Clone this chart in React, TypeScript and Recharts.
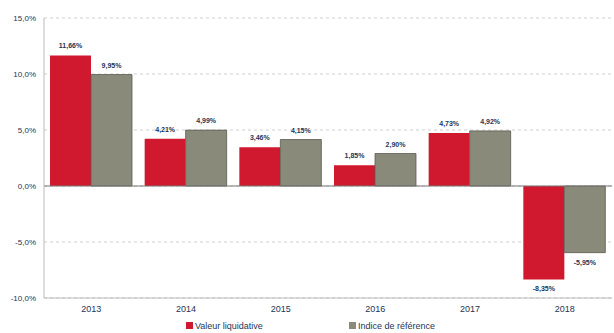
import React from 'react';
import { BarChart, Bar, XAxis, YAxis, CartesianGrid, ReferenceLine, LabelList, Legend } from 'recharts';

const years = ['2013', '2014', '2015', '2016', '2017', '2018'];
const valeurLiquidative = [11.66, 4.21, 3.46, 1.85, 4.73, -8.35];
const indiceReference = [9.95, 4.99, 4.15, 2.9, 4.92, -5.95];
const yTicks = [-10, -5, 0, 5, 10, 15];

const RED = '#d0182f';
const GREY = '#8a8a7a';
const TEXT = '#243556';

const data = years.map((y, i) => ({
  year: y,
  vl: valeurLiquidative[i],
  ir: indiceReference[i],
}));

const fmt = (v: number) => v.toFixed(1).replace('.', ',') + '%';
const fmtLabel = (v: any) => Number(v).toFixed(2).replace('.', ',') + '%';

const LegendBox = () => (
  <div style={{ display: 'flex', fontSize: 9, color: TEXT, fontFamily: 'Liberation Sans, Arial, sans-serif', height: 15, alignItems: 'center' }}>
    <div style={{ marginLeft: 186, display: 'flex', alignItems: 'center' }}>
      <span style={{ width: 7, height: 7, background: RED, display: 'inline-block', marginRight: 2 }} />
      Valeur liquidative
    </div>
    <div style={{ marginLeft: 86, display: 'flex', alignItems: 'center' }}>
      <span style={{ width: 7, height: 7, background: GREY, display: 'inline-block', marginRight: 2 }} />
      Indice de référence
    </div>
  </div>
);

export default function App() {
  return (
    <div style={{ position: 'absolute', left: 0, top: 0, background: '#fff' }}>
      <BarChart
        width={614}
        height={333}
        data={data}
        margin={{ top: 18, right: 2, left: 0, bottom: 0 }}
        barGap={0}
        barCategoryGap={6}
      >
        <CartesianGrid vertical={false} stroke="#cfcfcf" strokeDasharray="3 3" />
        <XAxis
          dataKey="year"
          height={20}
          tick={{ fontSize: 9, fill: TEXT, fontFamily: 'Liberation Sans, Arial, sans-serif' }}
          stroke="#bbbbbb"
          tickLine={false}
        />
        <YAxis
          width={44}
          domain={[-10, 15]}
          ticks={yTicks}
          tickFormatter={fmt}
          interval={0}
          tick={{ fontSize: 8, fill: TEXT, fontFamily: 'Liberation Sans, Arial, sans-serif' }}
          stroke="#bbbbbb"
          tickLine={false}
        />
        <ReferenceLine y={0} stroke="#777777" />
        <Legend verticalAlign="bottom" height={15} content={() => <LegendBox />} />
        <Bar dataKey="vl" name="Valeur liquidative" fill={RED} isAnimationActive={false}>
          <LabelList dataKey="vl" position="top" formatter={fmtLabel} style={{ fontSize: 7, fill: TEXT, fontWeight: 'bold', fontFamily: 'Liberation Sans, Arial, sans-serif' }} offset={7} />
        </Bar>
        <Bar dataKey="ir" name="Indice de référence" fill={GREY} stroke="#5a5a50" strokeWidth={0.8} isAnimationActive={false}>
          <LabelList dataKey="ir" position="top" formatter={fmtLabel} style={{ fontSize: 7, fill: TEXT, fontWeight: 'bold', fontFamily: 'Liberation Sans, Arial, sans-serif' }} offset={7} />
        </Bar>
      </BarChart>
    </div>
  );
}
